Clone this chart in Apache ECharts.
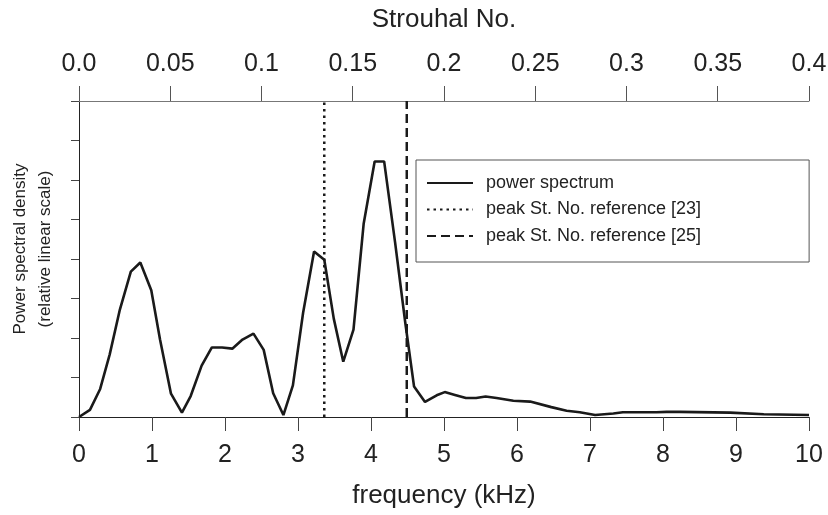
<!DOCTYPE html>
<html>
<head>
<meta charset="utf-8">
<script src="https://cdn.jsdelivr.net/npm/echarts@6/dist/echarts.min.js"></script>
<style>
  html, body { margin: 0; padding: 0; background: #fff; }
  #chart { width: 828px; height: 515px; }
</style>
</head>
<body>
<div id="chart"></div>
<script>
// frequency samples (kHz) and relative power spectral density
const freq = [0, 0.15, 0.29, 0.42, 0.56, 0.71, 0.84, 0.99, 1.11, 1.26, 1.41, 1.53, 1.68, 1.82, 1.96,
  2.10, 2.24, 2.39, 2.53, 2.66, 2.80, 2.93, 3.07, 3.22, 3.36, 3.49, 3.62, 3.76, 3.90, 4.05, 4.18,
  4.33, 4.47, 4.59, 4.74, 4.90, 5.01, 5.15, 5.30, 5.44, 5.57, 5.72, 5.95, 6.18, 6.47, 6.68, 6.86,
  7.07, 7.32, 7.45, 7.91, 8.05, 8.23, 8.92, 9.38, 10];
const psd = [0, 0.18, 0.71, 1.58, 2.72, 3.68, 3.91, 3.21, 1.96, 0.59, 0.11, 0.53, 1.30, 1.76, 1.76,
  1.73, 1.96, 2.11, 1.70, 0.60, 0.05, 0.80, 2.64, 4.19, 3.98, 2.49, 1.40, 2.21, 4.90, 6.47, 6.47,
  4.42, 2.38, 0.77, 0.38, 0.55, 0.63, 0.56, 0.48, 0.48, 0.52, 0.48, 0.41, 0.39, 0.25, 0.16, 0.12,
  0.05, 0.09, 0.12, 0.12, 0.13, 0.13, 0.11, 0.07, 0.05];

// peak Strouhal numbers from the references, as frequency (kHz)
const ref23Freq = 3.36;
const ref25Freq = 4.49;
const yRange = [0, 8];

const seriesNames = ['power spectrum', 'peak St. No. reference [23]', 'peak St. No. reference [25]'];

const ink = '#1a1a1a';
const font = 'Liberation Sans';

const chart = echarts.init(document.getElementById('chart'));

const option = {
  animation: false,
  textStyle: { fontFamily: font, color: '#222' },
  grid: { left: 79, right: 19, top: 101, bottom: 98, outerBoundsMode: 'none', containLabel: false },
  legend: {
    data: seriesNames,
    orient: 'vertical',
    left: 416,
    top: 160,
    itemWidth: 46,
    itemHeight: 14,
    itemGap: 8.5,
    borderColor: '#555',
    borderWidth: 1,
    padding: [14, 108, 17, 10],
    itemStyle: { opacity: 0 },
    textStyle: { fontFamily: font, fontSize: 18, color: '#222', padding: [0, 0, 0, 8] }
  },
  xAxis: [
    {
      type: 'value',
      position: 'bottom',
      min: 0, max: 10, interval: 1,
      name: 'frequency (kHz)',
      nameLocation: 'middle',
      nameGap: 66,
      nameTextStyle: { fontSize: 26, color: '#222' },
      axisLine: { lineStyle: { color: '#222', width: 1 } },
      axisTick: { length: 14, lineStyle: { color: '#444' } },
      axisLabel: { fontSize: 25, margin: 26, color: '#222' },
      splitLine: { show: false }
    },
    {
      type: 'value',
      position: 'top',
      min: 0, max: 0.4, interval: 0.05,
      name: 'Strouhal No.',
      nameLocation: 'middle',
      nameGap: 68,
      nameTextStyle: { fontSize: 26, color: '#222' },
      axisLine: { lineStyle: { color: '#777', width: 1 } },
      axisTick: { length: 15, lineStyle: { color: '#555' } },
      axisLabel: {
        fontSize: 25, margin: 24, color: '#222',
        formatter: v => v === 0 ? '0.0' : String(+v.toFixed(2))
      },
      splitLine: { show: false }
    }
  ],
  yAxis: {
    type: 'value',
    min: yRange[0], max: yRange[1], interval: 1,
    name: 'Power spectral density\n(relative linear scale)',
    nameLocation: 'middle',
    nameRotate: 90,
    nameGap: 21,
    nameTextStyle: { fontSize: 17, lineHeight: 25, color: '#222', padding: [0, 0, 0, 20] },
    axisLine: { show: true, lineStyle: { color: '#222', width: 1 } },
    axisTick: { show: true, length: 8, lineStyle: { color: '#444' } },
    axisLabel: { show: false },
    splitLine: { show: false }
  },
  series: [
    {
      name: seriesNames[0],
      type: 'line',
      xAxisIndex: 0,
      data: freq.map((f, i) => [f, psd[i]]),
      symbol: 'none',
      lineStyle: { color: ink, width: 2.6 },
      itemStyle: { color: ink }
    },
    {
      name: seriesNames[1],
      type: 'line',
      xAxisIndex: 0,
      data: yRange.map(y => [ref23Freq, y]),
      symbol: 'none',
      lineStyle: { color: ink, width: 2.5, type: [2.5, 4] },
      itemStyle: { color: ink }
    },
    {
      name: seriesNames[2],
      type: 'line',
      xAxisIndex: 0,
      data: yRange.map(y => [ref25Freq, y]),
      symbol: 'none',
      lineStyle: { color: ink, width: 2.5, type: [9, 5] },
      itemStyle: { color: ink }
    }
  ]
};

chart.setOption(option);
</script>
</body>
</html>
